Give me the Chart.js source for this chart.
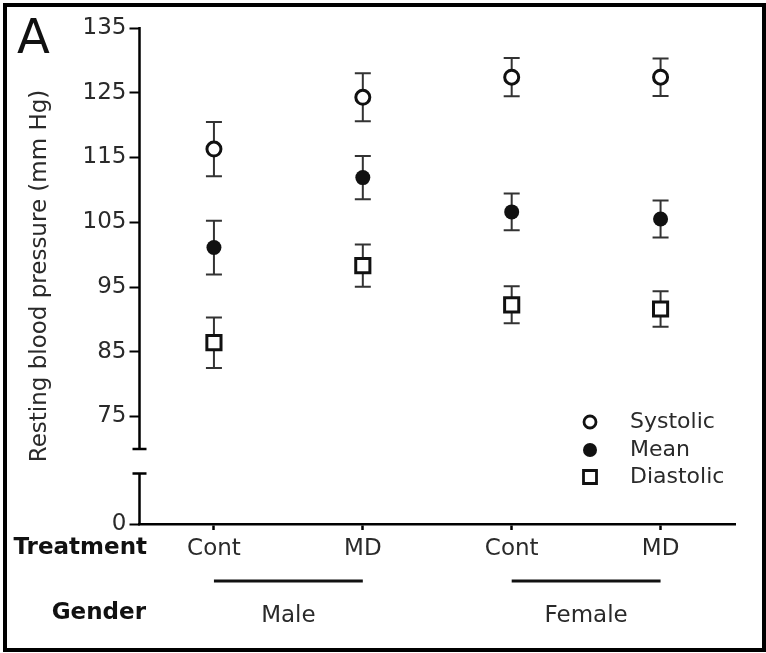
<!DOCTYPE html>
<html>
<head>
<meta charset="utf-8">
<script src="https://cdn.jsdelivr.net/npm/chart.js@4/dist/chart.umd.min.js"></script>
<style>
  html, body { margin: 0; padding: 0; background: #fff; }
  canvas { display: block; }
</style>
</head>
<body>
<canvas id="c" width="766" height="653"></canvas>
<script>
// ---- Data ----
const treatments = ["Cont", "MD", "Cont", "MD"];
const genders = ["Male", "Female"];
const systolic = [116.3, 124.3, 127.4, 127.4];
const systolicErr = [4.2, 3.7, 2.95, 2.9];
const meanBP = [101.1, 111.9, 106.6, 105.5];
const meanErr = [4.15, 3.35, 2.85, 2.85];
const diastolic = [86.4, 98.3, 92.25, 91.6];
const diastolicErr = [3.9, 3.25, 2.85, 2.75];
const yTickValues = [75, 85, 95, 105, 115, 125, 135];
const yZeroLabel = "0";
const yAxisMin = 58.4;      // position where the broken axis shows "0"
const yBreakUpper = 70;     // axis break (upper end)
const yBreakLower = 66.2;   // axis break (lower end)
const seriesNames = ["Systolic", "Mean", "Diastolic"];

const FONT = "DejaVu Sans";
const TXT = "#2a2a2a";

const errorBars = {
  id: "errorBars",
  beforeDatasetsDraw(chart) {
    const ctx = chart.ctx, xs = chart.scales.x, ys = chart.scales.y;
    ctx.save();
    ctx.strokeStyle = "#333";
    ctx.lineWidth = 2;
    chart.data.datasets.forEach(ds => {
      ds.data.forEach((v, i) => {
        const e = ds.errors[i];
        const x = xs.getPixelForValue(i);
        const yt = ys.getPixelForValue(v + e);
        const yb = ys.getPixelForValue(v - e);
        ctx.beginPath();
        ctx.moveTo(x, yt); ctx.lineTo(x, yb);
        ctx.moveTo(x - 8, yt); ctx.lineTo(x + 8, yt);
        ctx.moveTo(x - 8, yb); ctx.lineTo(x + 8, yb);
        ctx.stroke();
      });
    });
    ctx.restore();
  }
};

const decorations = {
  id: "decorations",
  afterDraw(chart) {
    const ctx = chart.ctx, xs = chart.scales.x, ys = chart.scales.y;
    const ax = chart.chartArea.left;
    ctx.save();
    // broken y axis
    ctx.strokeStyle = "#000";
    ctx.lineWidth = 2.5;
    const yTop = ys.getPixelForValue(yTickValues[yTickValues.length - 1]) - 1;
    const yB1 = ys.getPixelForValue(yBreakUpper);
    const yB2 = ys.getPixelForValue(yBreakLower);
    const yBot = ys.getPixelForValue(yAxisMin) + 1;
    ctx.beginPath();
    ctx.moveTo(ax, yTop); ctx.lineTo(ax, yB1);
    ctx.moveTo(ax - 7, yB1); ctx.lineTo(ax + 7, yB1);
    ctx.moveTo(ax - 7, yB2); ctx.lineTo(ax + 7, yB2);
    ctx.moveTo(ax, yB2); ctx.lineTo(ax, yBot);
    ctx.stroke();

    // gender group lines and labels
    ctx.lineWidth = 3;
    ctx.strokeStyle = "#111";
    ctx.fillStyle = TXT;
    ctx.font = "23px '" + FONT + "'";
    ctx.textAlign = "center";
    ctx.textBaseline = "middle";
    genders.forEach((g, k) => {
      const x1 = xs.getPixelForValue(2 * k);
      const x2 = xs.getPixelForValue(2 * k + 1);
      ctx.beginPath();
      ctx.moveTo(x1, 581); ctx.lineTo(x2, 581);
      ctx.stroke();
      ctx.fillText(g, (x1 + x2) / 2, 616);
    });

    // row headers
    ctx.fillStyle = "#111";
    ctx.font = "bold 23px '" + FONT + "'";
    ctx.textAlign = "right";
    ctx.fillText("Treatment", 147, 548);
    ctx.fillText("Gender", 146, 613);

    // panel letter
    ctx.font = "48px '" + FONT + "'";
    ctx.textAlign = "left";
    ctx.textBaseline = "alphabetic";
    ctx.fillText("A", 17, 53);

    // legend
    const lx = 590, tx = 630, rows = [422, 450, 477];
    ctx.font = "22px '" + FONT + "'";
    ctx.textBaseline = "middle";
    ctx.fillStyle = TXT;
    seriesNames.forEach((n, i) => ctx.fillText(n, tx, rows[i]));
    ctx.strokeStyle = "#111";
    ctx.lineWidth = 2.8;
    ctx.fillStyle = "#fff";
    ctx.beginPath(); ctx.arc(lx, rows[0], 6, 0, Math.PI * 2); ctx.fill(); ctx.stroke();
    ctx.fillStyle = "#111";
    ctx.beginPath(); ctx.arc(lx, rows[1], 7, 0, Math.PI * 2); ctx.fill();
    ctx.fillStyle = "#fff";
    ctx.beginPath(); ctx.rect(lx - 6.5, rows[2] - 6.5, 13, 13); ctx.fill(); ctx.stroke();

    // frame
    ctx.strokeStyle = "#000";
    ctx.lineWidth = 4;
    ctx.strokeRect(5, 5, 759, 645);
    ctx.restore();
  }
};

const whiteBg = {
  id: "whiteBg",
  beforeDraw(chart) {
    const ctx = chart.ctx;
    ctx.save();
    ctx.fillStyle = "#fff";
    ctx.fillRect(0, 0, chart.width, chart.height);
    ctx.restore();
  }
};

new Chart(document.getElementById("c"), {
  type: "line",
  data: {
    labels: treatments,
    datasets: [
      { label: seriesNames[0], data: systolic, errors: systolicErr, showLine: false,
        pointStyle: "circle", pointRadius: 7, pointHoverRadius: 7,
        pointBackgroundColor: "#fff", pointBorderColor: "#111", pointBorderWidth: 3 },
      { label: seriesNames[1], data: meanBP, errors: meanErr, showLine: false,
        pointStyle: "circle", pointRadius: 7.5, pointHoverRadius: 7.5,
        pointBackgroundColor: "#111", pointBorderColor: "#111", pointBorderWidth: 0 },
      { label: seriesNames[2], data: diastolic, errors: diastolicErr, showLine: false,
        pointStyle: "rect", pointRadius: 10, pointHoverRadius: 10,
        pointBackgroundColor: "#fff", pointBorderColor: "#111", pointBorderWidth: 3 }
    ]
  },
  options: {
    responsive: false,
    animation: false,
    events: [],
    layout: { padding: { left: 10, top: 28, right: 31, bottom: 0 } },
    plugins: { legend: { display: false }, tooltip: { enabled: false } },
    scales: {
      x: {
        type: "category",
        offset: true,
        grid: { drawOnChartArea: false, drawTicks: true, tickLength: 6, tickWidth: 2.5, tickColor: "#000", offset: false },
        border: { display: true, color: "#000", width: 2.5 },
        ticks: { color: TXT, font: { family: FONT, size: 23 }, padding: 5, maxRotation: 0 },
        afterFit(scale) { scale.height = 129; }
      },
      y: {
        type: "linear",
        min: yAxisMin,
        max: yTickValues[yTickValues.length - 1],
        afterBuildTicks(scale) {
          scale.ticks = [yAxisMin].concat(yTickValues).map(v => ({ value: v }));
        },
        grid: { drawOnChartArea: false, drawTicks: true, tickLength: 10, tickWidth: 2, tickColor: "#000" },
        border: { display: false },
        ticks: {
          color: TXT, font: { family: FONT, size: 23 }, padding: 3,
          callback: (v) => (v === yAxisMin ? yZeroLabel : String(v))
        },
        title: {
          display: true, text: "Resting blood pressure (mm Hg)", color: TXT,
          font: { family: FONT, size: 23 }, padding: { top: 16, bottom: 0 }
        },
        afterFit(scale) { scale.width = 129.5; }
      }
    }
  },
  plugins: [whiteBg, errorBars, decorations]
});
</script>
</body>
</html>
